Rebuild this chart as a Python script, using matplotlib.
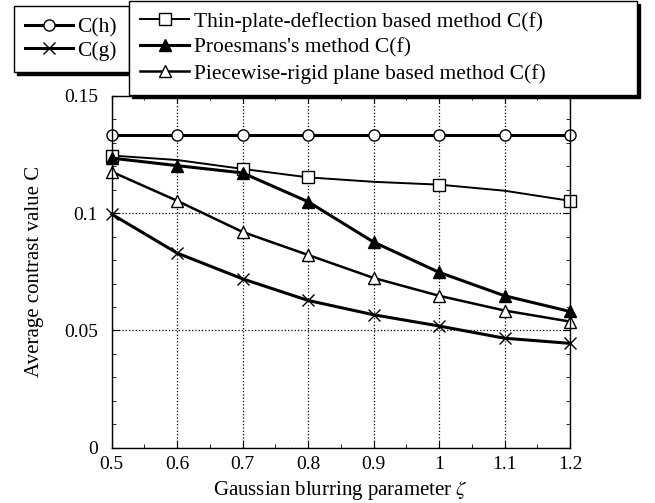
import matplotlib
matplotlib.use('Agg')
import matplotlib.pyplot as plt
from matplotlib.ticker import MultipleLocator, FormatStrFormatter

plt.rcParams['font.family'] = ['Liberation Serif', 'DejaVu Serif']
plt.rcParams['mathtext.fontset'] = 'stix'

# data
zeta = [0.5, 0.6, 0.7, 0.8, 0.9, 1.0, 1.1, 1.2]
c_h = [0.1335] * 8
c_g = [0.0996, 0.0830, 0.0720, 0.0628, 0.0567, 0.0519, 0.0467, 0.0445]
thin_plate = [0.1246, 0.1227, 0.1189, 0.1153, 0.1134, 0.1122, 0.1096, 0.1053]
thin_plate_marks = [0, 2, 3, 5, 7]
proesmans = [0.1235, 0.1203, 0.1172, 0.1049, 0.0877, 0.0748, 0.0648, 0.0581]
piecewise = [0.1177, 0.1053, 0.0920, 0.0822, 0.0724, 0.0648, 0.0585, 0.0538]

W, H = 655, 503
fig = plt.figure(figsize=(W / 100, H / 100), dpi=100)
ax = fig.add_axes([111.7 / W, 1 - 447.7 / H, (570 - 111.7) / W, (447.7 - 96) / H])

l_h, = ax.plot(zeta, c_h, color='k', lw=2.2, marker='o', ms=8, mfc='white', mec='k', mew=1.0, label='C(h)')
l_g, = ax.plot(zeta, c_g, color='k', lw=2.2, marker='x', ms=8, mec='k', mew=1.0, label='C(g)')
l_tp, = ax.plot(zeta, thin_plate, color='k', lw=1.4, marker='s', ms=8, mfc='white', mec='k', mew=1.0,
                markevery=thin_plate_marks, label='Thin-plate-deflection based method C(f)')
l_pr, = ax.plot(zeta, proesmans, color='k', lw=2.2, marker='^', ms=9, mfc='k', mec='k', mew=1.0,
                label="Proesmans's method C(f)")
l_pw, = ax.plot(zeta, piecewise, color='k', lw=1.8, marker='^', ms=9, mfc='white', mec='k', mew=1.0,
                label='Piecewise-rigid plane based method C(f)')
for ln in (l_h, l_g, l_tp, l_pr, l_pw):
    ln.set_clip_on(False)

ax.set_xlim(0.5, 1.2)
ax.set_ylim(0, 0.15)
ax.xaxis.set_major_locator(MultipleLocator(0.1))
ax.xaxis.set_minor_locator(MultipleLocator(0.05))
ax.yaxis.set_major_locator(MultipleLocator(0.05))
ax.yaxis.set_minor_locator(MultipleLocator(0.01))
ax.xaxis.set_major_formatter(FormatStrFormatter('%g'))
ax.yaxis.set_major_formatter(FormatStrFormatter('%g'))
ax.tick_params(which='both', direction='in', top=True, right=True, labelsize=14)
ax.tick_params(axis='x', pad=6)
ax.tick_params(axis='y', pad=10)
ax.tick_params(which='major', length=5)
ax.tick_params(which='minor', length=3)
ax.grid(True, which='major', linestyle=':', color='k', lw=0.9)
for sp in ax.spines.values():
    sp.set_linewidth(1.0)

ax.set_xlabel('Gaussian blurring parameter $\\zeta$', fontsize=15, labelpad=4)
ax.set_ylabel('Average contrast value C', fontsize=15, labelpad=14)

shadow = {'color': 'k', 'alpha': 1.0}
leg1 = fig.legend(handles=[l_h, l_g], loc='upper left', mode='expand',
                  bbox_to_anchor=(14 / W, 1 - 68 / H, 115 / W, 62 / H),
                  bbox_transform=fig.transFigure, fontsize=15.5, frameon=True, fancybox=False,
                  edgecolor='k', framealpha=1, shadow=shadow, borderaxespad=0, borderpad=0.52,
                  handlelength=2.2, handletextpad=0.2, labelspacing=0.15)
leg1.get_frame().set_linewidth(1.0)
leg1.set_zorder(5)
leg2 = fig.legend(handles=[l_tp, l_pr, l_pw], loc='upper left', mode='expand',
                  bbox_to_anchor=(129 / W, 1 - 93 / H, 508 / W, 92 / H),
                  bbox_transform=fig.transFigure, fontsize=15.5, frameon=True, fancybox=False,
                  edgecolor='k', framealpha=1, shadow=shadow, borderaxespad=0, borderpad=0.5,
                  handlelength=2.3, handletextpad=0.2, labelspacing=0.28)
leg2.get_frame().set_linewidth(1.0)
leg2.set_zorder(6)

fig.savefig('out.png', dpi=100)
